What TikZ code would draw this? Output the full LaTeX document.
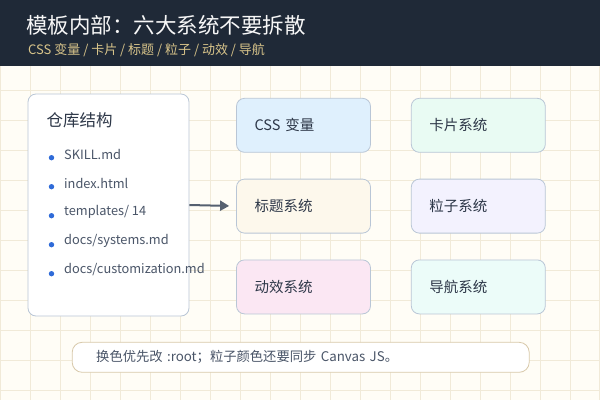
\documentclass[tikz,border=0pt]{standalone}
\usepackage{fontspec}
\setmainfont{Noto Sans CJK SC}
\usetikzlibrary{positioning,arrows.meta}

\definecolor{paper}{HTML}{FFFDF6}
\definecolor{gridc}{HTML}{F1EAD8}
\definecolor{headbg}{HTML}{1F2937}
\definecolor{gold}{HTML}{D8C48A}
\definecolor{boxline}{HTML}{B9C6D6}
\definecolor{ink}{HTML}{2D3748}
\definecolor{itemc}{HTML}{4A5568}
\definecolor{dotc}{HTML}{2F6BD8}
\definecolor{notec}{HTML}{D8C9AA}
\definecolor{arrowc}{HTML}{556070}
\definecolor{cssfill}{HTML}{DFF0FD}
\definecolor{cardfill}{HTML}{E9FBF3}
\definecolor{headfill}{HTML}{FDF8EC}
\definecolor{partfill}{HTML}{F3F2FE}
\definecolor{animfill}{HTML}{FBE7F3}
\definecolor{navfill}{HTML}{ECFCF9}

\tikzset{
  sysbox/.style={draw=boxline,line width=0.8pt,rounded corners=8pt,
    minimum width=134pt,minimum height=54pt,text width=98pt,
    inner xsep=18pt,inner ysep=0pt,align=left,text=ink,
    font=\fontsize{14.5}{16}\selectfont},
  panel/.style={draw=boxline,line width=0.8pt,fill=white,rounded corners=8pt},
  item/.style={anchor=west,inner sep=0pt,text=itemc,
    font=\fontsize{12.8}{14}\selectfont},
  link/.style={draw=arrowc,line width=2pt,-{Triangle[length=9pt,width=10pt]}}
}

\begin{document}
\begin{tikzpicture}[x=1pt,y=-1pt]
\useasboundingbox (0,0) rectangle (600,400);
% background and grid
\fill[paper] (0,0) rectangle (600,400);
\draw[gridc,line width=1pt,step=30pt] (0,0) grid (600,400);
\fill[headbg] (0,0) rectangle (600,66);
\node[anchor=west,inner sep=0pt,text=white!94!gray,
  font=\fontsize{21.5}{24}\selectfont] (title) at (26,25.5) {模板内部：六大系统不要拆散};
\node[anchor=west,inner sep=0pt,text=gold,
  font=\fontsize{13}{14}\selectfont] (subtitle) at (28,50.5) {CSS 变量 / 卡片 / 标题 / 粒子 / 动效 / 导航};

% repository panel
\node[panel,minimum width=161pt,minimum height=222pt] (repo) at (108.5,205) {};
\node[anchor=west,inner sep=0pt,text=ink,
  font=\fontsize{16.5}{18}\selectfont] (repohead) at (46.5,120.5) {仓库结构};
\foreach \name [count=\i] in {SKILL.md,index.html,templates/ 14,docs/systems.md,docs/customization.md}
{
  \fill[dotc] (51.5,128.7+29*\i) circle (2.7pt);
  \node[item] (item\i) at (64,125+29*\i) {\name};
}

% six systems
\node[sysbox,fill=cssfill] (css) at (303.5,125.3) {CSS 变量};
\node[sysbox,fill=cardfill,right=40pt of css] (card) {卡片系统};
\node[sysbox,fill=headfill,below=26pt of css] (heading) {标题系统};
\node[sysbox,fill=partfill,right=40pt of heading] (particle) {粒子系统};
\node[sysbox,fill=animfill,below=26pt of heading] (motion) {动效系统};
\node[sysbox,fill=navfill,right=40pt of motion] (nav) {导航系统};

\draw[link,shorten >=7pt] (repo.east) -- (heading.west);

% note
\node[draw=notec,line width=0.8pt,fill=white,rounded corners=10pt,
  minimum width=457pt,minimum height=30pt,text width=409pt,inner xsep=24pt,
  align=left,text=itemc,font=\fontsize{13.3}{15}\selectfont] (note) at (300.7,357.3)
  {换色优先改 :root；粒子颜色还要同步 Canvas JS。};
\end{tikzpicture}
\end{document}
